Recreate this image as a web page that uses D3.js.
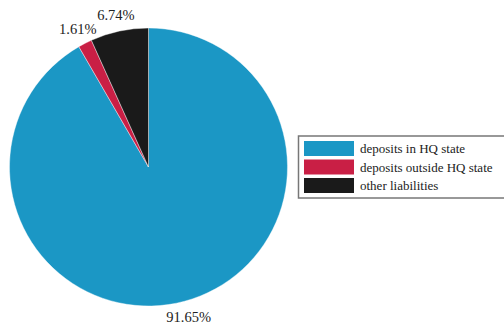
<!DOCTYPE html>
<html><head><meta charset="utf-8">
<script src="https://cdn.jsdelivr.net/npm/d3@7"></script>
<style>html,body{margin:0;padding:0;background:#fff;}svg{display:block;} text{font-family:"Liberation Serif","Times New Roman",serif;}</style>
</head><body>
<svg id="c" width="504" height="324"></svg>
<script>
const categories = ["deposits in HQ state", "deposits outside HQ state", "other liabilities"];
const values = [91.65, 1.61, 6.74];
const labels = ["91.65%", "1.61%", "6.74%"];
const colors = ["#1b97c5", "#c91f45", "#1a1a1a"];

const svg = d3.select("#c");
const cx = 148.5, cy = 167, r = 139, lr = 155;
const pie = d3.pie().sort(null).value(d => d)(values);
const arc = d3.arc().innerRadius(0).outerRadius(r);
const g = svg.append("g").attr("transform", `translate(${cx},${cy})`);
g.selectAll("path").data(pie).join("path")
  .attr("d", arc)
  .attr("fill", (d, i) => colors[i])
  .attr("stroke", "#fff").attr("stroke-width", 0.4);
g.selectAll("text").data(pie).join("text")
  .attr("x", d => lr * Math.sin((d.startAngle + d.endAngle) / 2))
  .attr("y", d => -lr * Math.cos((d.startAngle + d.endAngle) / 2))
  .attr("text-anchor", "middle").attr("dominant-baseline", "central")
  .attr("font-size", 14.5)
  .attr("fill", "#222")
  .text((d, i) => labels[i]);

const lg = svg.append("g");
lg.append("rect").attr("x", 298.5).attr("y", 136).attr("width", 220).attr("height", 62)
  .attr("fill", "#fff").attr("stroke", "#777").attr("stroke-width", 1.5);
const y0 = 141, step = 18.5;
categories.forEach((c, i) => {
  lg.append("rect").attr("x", 304).attr("y", y0 + i * step).attr("width", 50).attr("height", 15)
    .attr("fill", colors[i]);
  lg.append("text").attr("x", 360).attr("y", y0 + i * step + 7.5)
    .attr("dominant-baseline", "central")
    .attr("font-size", 13).attr("fill", "#222")
    .text(c);
});
</script>
</body></html>
